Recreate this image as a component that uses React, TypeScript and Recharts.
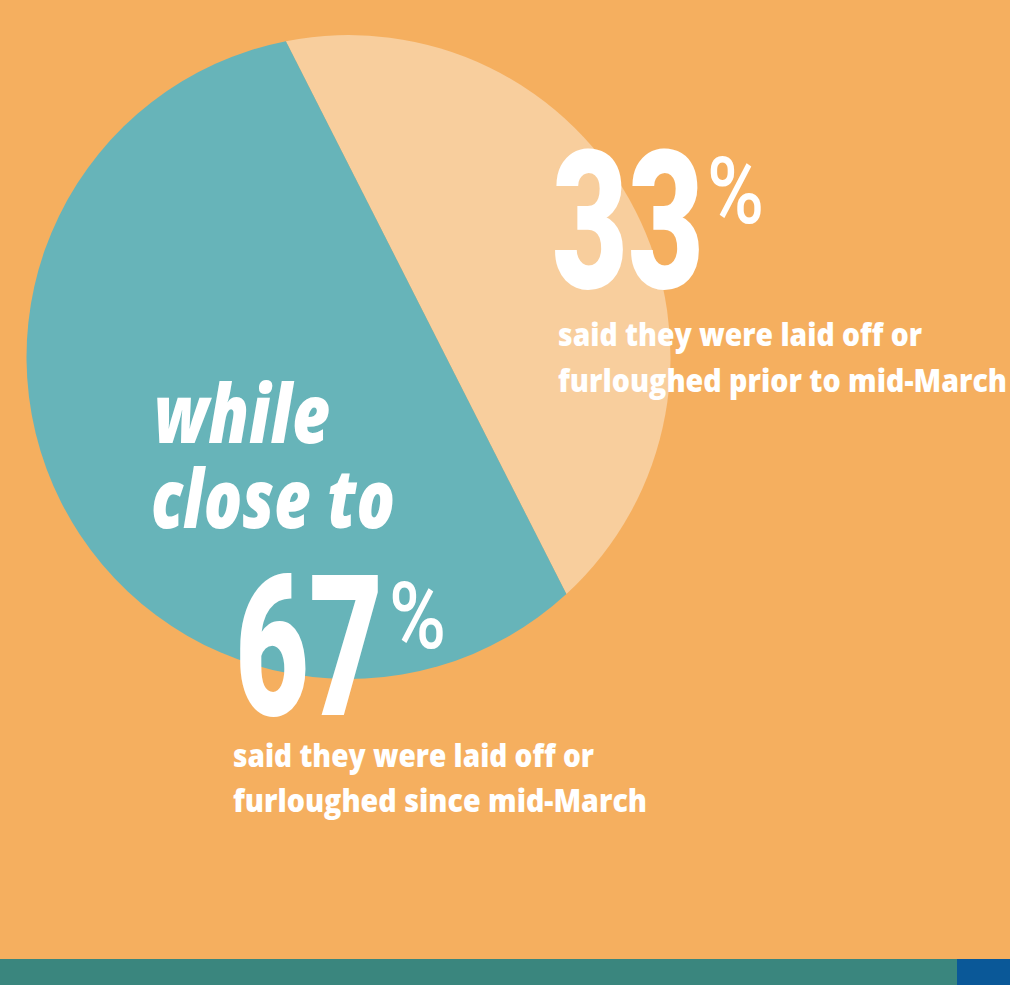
import React from 'react';
import { PieChart, Pie, Cell } from 'recharts';

// ---- data ----
const categories = ['Laid off or furloughed prior to mid-March', 'Laid off or furloughed since mid-March'];
const shares = [33, 67];
const percentLabels = ['33', '67'];
const captionLines = [
  ['said they were laid off or', 'furloughed prior to mid-March'],
  ['said they were laid off or', 'furloughed since mid-March'],
];
const leadLines = ['while', 'close to'];
const sliceColors = ['#F8CE9D', '#67B4B9'];

const W = 1010;
const H = 985;
const BG = '#F5AF5F';

const pieData = categories.map((name, i) => ({ name, value: shares[i] }));

const RAD = Math.PI / 180;

// central angle of a circular segment whose area is fraction f of the disc
function segmentAngle(f: number): number {
  const target = 2 * Math.PI * f;
  let t = Math.PI;
  for (let k = 0; k < 40; k++) {
    const g = t - Math.sin(t) - target;
    const d = 1 - Math.cos(t);
    if (Math.abs(d) < 1e-9) break;
    t -= g / d;
    if (t < 0) t = 1e-3;
    if (t > 2 * Math.PI) t = 2 * Math.PI - 1e-3;
  }
  return t;
}

function polar(cx: number, cy: number, r: number, deg: number) {
  return { x: cx + r * Math.cos(-deg * RAD), y: cy + r * Math.sin(-deg * RAD) };
}

// Each share is drawn as a circular segment (chord cut) of equal-area fraction
const SegmentLabel = (props: any) => {
  const { cx, cy, outerRadius, midAngle, startAngle, endAngle, index } = props;
  const f = props.percent != null ? props.percent : Math.abs(endAngle - startAngle) / 360;
  const theta = segmentAngle(f) / RAD;
  const a1 = midAngle + theta / 2;
  const a2 = midAngle - theta / 2;
  const p1 = polar(cx, cy, outerRadius, a1);
  const p2 = polar(cx, cy, outerRadius, a2);
  const large = theta > 180 ? 1 : 0;
  const d = `M${p1.x},${p1.y} A${outerRadius},${outerRadius} 0 ${large} 1 ${p2.x},${p2.y} Z`;
  return <path d={d} fill={sliceColors[index]} stroke="none" />;
};

const digitFont = 'Roboto, "Liberation Sans", sans-serif';
const textFont = '"Open Sans", "Noto Sans", sans-serif';
const italicFont = '"Open Sans", Lato, sans-serif';

export default function App() {
  return (
    <div style={{ position: 'absolute', left: 0, top: 0, width: W, height: H, background: BG, overflow: 'hidden' }}>
      <div style={{ position: 'absolute', left: 0, top: 0 }}>
        <PieChart width={W} height={H} margin={{ top: 0, right: 0, bottom: 0, left: 0 }}>
          <Pie
            data={pieData}
            dataKey="value"
            nameKey="name"
            cx={348.5}
            cy={357}
            innerRadius={0}
            outerRadius={322}
            startAngle={86.3}
            endAngle={86.3 - 360}
            stroke="none"
            isAnimationActive={false}
            label={SegmentLabel}
            labelLine={false}
          >
            {pieData.map((d, i) => (
              <Cell key={d.name} fill="transparent" stroke="none" />
            ))}
          </Pie>
        </PieChart>
      </div>
      <svg width={W} height={H} style={{ position: 'absolute', left: 0, top: 0, pointerEvents: 'none' }}>
        {/* 33% block */}
        <text x={552} y={288} fill="#fff" fontFamily={digitFont} fontWeight={900} fontSize={193}
          textLength={152} lengthAdjust="spacingAndGlyphs">{percentLabels[0]}</text>
        <text x={707} y={223} fill="#fff" fontFamily={digitFont} fontWeight={500} fontSize={92}
          textLength={57} lengthAdjust="spacingAndGlyphs">%</text>
        <text x={558} y={346} fill="#fff" fontFamily={textFont} fontWeight={800} fontSize={31}
          textLength={364} lengthAdjust="spacingAndGlyphs">{captionLines[0][0]}</text>
        <text x={558} y={392} fill="#fff" fontFamily={textFont} fontWeight={800} fontSize={31}
          textLength={449} lengthAdjust="spacingAndGlyphs">{captionLines[0][1]}</text>

        {/* while close to */}
        <text x={154} y={443} fill="#fff" fontFamily={italicFont} fontStyle="italic" fontWeight={800} fontSize={82}
          textLength={176} lengthAdjust="spacingAndGlyphs">{leadLines[0]}</text>
        <text x={151} y={528} fill="#fff" fontFamily={italicFont} fontStyle="italic" fontWeight={800} fontSize={82}
          textLength={244} lengthAdjust="spacingAndGlyphs">{leadLines[1]}</text>

        {/* 67% block */}
        <text x={235} y={715} fill="#fff" fontFamily={digitFont} fontWeight={900} fontSize={197}
          textLength={148} lengthAdjust="spacingAndGlyphs">{percentLabels[1]}</text>
        <text x={389} y={648} fill="#fff" fontFamily={digitFont} fontWeight={500} fontSize={92}
          textLength={57} lengthAdjust="spacingAndGlyphs">%</text>
        <text x={233} y={767} fill="#fff" fontFamily={textFont} fontWeight={800} fontSize={31}
          textLength={361} lengthAdjust="spacingAndGlyphs">{captionLines[1][0]}</text>
        <text x={233} y={812} fill="#fff" fontFamily={textFont} fontWeight={800} fontSize={31}
          textLength={414} lengthAdjust="spacingAndGlyphs">{captionLines[1][1]}</text>
      </svg>
      <div style={{ position: 'absolute', left: 0, top: 959, width: 957, height: 26, background: '#3A867E' }} />
      <div style={{ position: 'absolute', left: 957, top: 959, width: 53, height: 26, background: '#0A5898' }} />
    </div>
  );
}
